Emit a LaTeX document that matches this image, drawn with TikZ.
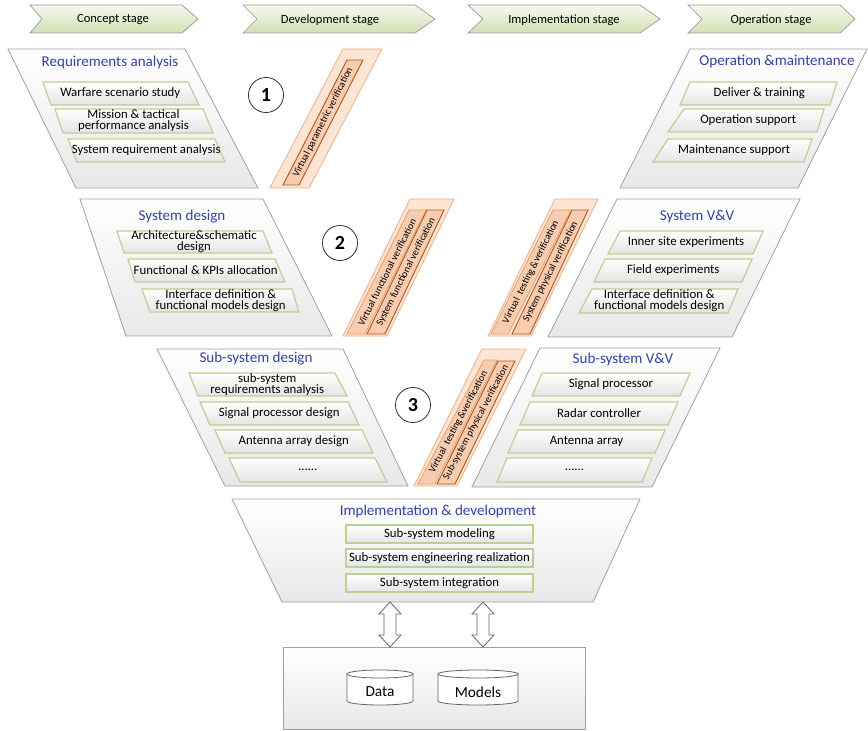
\documentclass[tikz,border=0pt]{standalone}
\usepackage{fontspec}
\setmainfont{Carlito}
\usetikzlibrary{calc}
\definecolor{titleblue}{RGB}{51,63,183}
\definecolor{stageedge}{RGB}{150,150,150}
\definecolor{stagetop}{RGB}{246,249,238}
\definecolor{stagebot}{RGB}{210,223,180}
\definecolor{shapeedge}{RGB}{160,160,160}
\definecolor{shapebot}{RGB}{232,232,232}
\definecolor{subbot}{RGB}{228,228,228}
\definecolor{subedge}{RGB}{188,208,146}
\definecolor{bandfill}{RGB}{252,229,213}
\definecolor{bandedge}{RGB}{243,176,130}
\definecolor{stripfill}{RGB}{248,204,174}
\definecolor{stripedge}{RGB}{233,160,112}
\definecolor{stripdark}{RGB}{180,88,30}

\newcommand{\tightlines}{\lineskiplimit=-5pt\relax}

% quadrilateral with a text node at its centre:
% #1 style, #2 node name, #3 top-left x, #4 top-right x, #5 top y,
% #6 bottom-left x, #7 bottom-right x, #8 bottom y, #9 text
\newcommand{\quadlabel}[9]{%
  \draw[#1] (#3,#5) -- (#4,#5) -- (#7,#8) -- (#6,#8) -- cycle;
  \node[boxtext] (#2) at ({(#3+#4+#6+#7)/4},{(#5+#8)/2}) {#9};}

\begin{document}
\begin{tikzpicture}[x=0.75pt,y=-0.75pt,
  stagebox/.style={draw=stageedge, line width=0.5pt, top color=stagetop, bottom color=stagebot},
  stagetext/.style={font=\fontsize{9.4}{10}\selectfont, inner sep=0pt},
  bigshape/.style={draw=shapeedge, line width=0.6pt, top color=white, bottom color=shapebot},
  subbox/.style={draw=subedge, line width=0.9pt, top color=white, bottom color=subbot},
  band/.style={draw=bandedge, line width=0.6pt, fill=bandfill},
  striplight/.style={draw=stripedge, line width=0.6pt, fill=stripfill},
  stripdk/.style={draw=stripdark, line width=0.7pt, fill=stripfill},
  title/.style={text=titleblue, font=\fontsize{11.3}{12}\selectfont, inner sep=0pt},
  boxtext/.style={align=center, font={\fontsize{9.6}{8.2}\selectfont\tightlines}, inner sep=0pt},
  striptext/.style={font=\fontsize{7.5}{8}\selectfont, inner sep=0pt},
  stepnum/.style={circle, draw=black!80, line width=0.6pt, minimum size=26.3pt, inner sep=0pt,
    font=\fontsize{15}{15}\selectfont\bfseries},
  blockarrow/.style={draw=black!60, line width=0.6pt, fill=white},
  drum/.style={draw=black!60, line width=0.6pt, fill=white},
  ]
\useasboundingbox (0,0) rectangle (868,731);

% ---------- stage chevrons ----------
\draw[stagebox] (30,5) -- (182,5) -- (198,19) -- (182,33) -- (30,33) -- (42,19) -- cycle;
\node[stagetext] (stConcept) at (113,20) {Concept stage};
\draw[stagebox] (243,5) -- (415,5) -- (435,19) -- (415,33) -- (243,33) -- (257,19) -- cycle;
\node[stagetext] (stDevelop) at (330,20) {Development stage};
\draw[stagebox] (468,5) -- (640,5) -- (660,19) -- (640,33) -- (468,33) -- (483,19) -- cycle;
\node[stagetext] (stImplement) at (564,20) {Implementation stage};
\draw[stagebox] (688,5) -- (840,5) -- (855,19) -- (840,33) -- (688,33) -- (702,19) -- cycle;
\node[stagetext] (stOperate) at (771,20) {Operation stage};

% ---------- requirements analysis ----------
\draw[bigshape] (8,49) -- (185,49) -- (258,188) -- (76,188) -- cycle;
\node[title] (reqTitle) at (110,62) {Requirements analysis};
\quadlabel{subbox}{reqA}{43}{188}{82}{51}{199}{105}{Warfare scenario study}
\quadlabel{subbox}{reqB}{55}{203}{109}{63}{213}{133}{Mission \& tactical\\performance analysis}
\quadlabel{subbox}{reqC}{68}{215}{139}{77}{225}{162}{System requirement analysis}

% ---------- operation & maintenance ----------
\draw[bigshape] (690,49) -- (867,49) -- (798,188) -- (620,188) -- cycle;
\node[title] (opTitle) at (777,62) {Operation \&maintenance};
\quadlabel{subbox}{opA}{690}{837}{82}{680}{830}{105}{Deliver \& training}
\quadlabel{subbox}{opB}{684}{824}{109}{668}{817}{132}{Operation support}
\quadlabel{subbox}{opC}{668}{812}{139}{653}{804}{162}{Maintenance support}

% ---------- system design ----------
\draw[bigshape] (80,199) -- (263,199) -- (332,336) -- (126,336) -- cycle;
\node[title] (sdTitle) at (182,217) {System design};
\quadlabel{subbox}{sdA}{117}{263}{231}{124}{272}{253}{Architecture\&schematic\\design}
\quadlabel{subbox}{sdB}{128}{275}{259}{135}{285}{282}{Functional \& KPIs allocation}
\quadlabel{subbox}{sdC}{142}{292}{289}{150}{299}{312}{Interface definition \&\\functional models design}

% ---------- system V&V ----------
\draw[bigshape] (617,199) -- (800,199) -- (732,337) -- (548,337) -- cycle;
\node[title] (svTitle) at (697,217) {System V\&V};
\quadlabel{subbox}{svA}{620}{763}{231}{608}{753}{254}{Inner site experiments}
\quadlabel{subbox}{svB}{605}{752}{259}{594}{742}{282}{Field experiments}
\quadlabel{subbox}{svC}{592}{738}{289}{579}{728}{313}{Interface definition \&\\functional models design}

% ---------- sub-system design ----------
\draw[bigshape] (157,349) -- (343,349) -- (408,486) -- (225,486) -- cycle;
\node[title] (ssdTitle) at (256,359) {Sub-system design};
\quadlabel{subbox}{ssdA}{189}{335}{373}{198}{347}{396}{sub-system\\requirements analysis}
\quadlabel{subbox}{ssdB}{200}{348}{402}{210}{359}{425}{Signal processor design}
\quadlabel{subbox}{ssdC}{215}{362}{430}{225}{373}{453}{Antenna array design}
\quadlabel{subbox}{ssdD}{229}{375}{458}{240}{387}{482}{......}

% ---------- sub-system V&V ----------
\draw[bigshape] (540,348) -- (720,348) -- (652,487) -- (472,487) -- cycle;
\node[title] (ssvTitle) at (623,359) {Sub-system V\&V};
\quadlabel{subbox}{ssvA}{542}{690}{373}{532}{680}{396}{Signal processor}
\quadlabel{subbox}{ssvB}{530}{678}{402}{520}{668}{425}{Radar controller}
\quadlabel{subbox}{ssvC}{518}{665}{430}{508}{655}{453}{Antenna array}
\quadlabel{subbox}{ssvD}{507}{652}{458}{497}{642}{482}{......}

% ---------- implementation & development ----------
\draw[bigshape] (232,499) -- (640,499) -- (593,602) -- (282,602) -- cycle;
\node[title] (implTitle) at (438,511) {Implementation \& development};
\quadlabel{subbox}{implA}{346}{533}{525}{346}{533}{543}{Sub-system modeling}
\quadlabel{subbox}{implB}{346}{533}{549}{346}{533}{567}{Sub-system engineering realization}
\quadlabel{subbox}{implC}{346}{533}{574}{346}{533}{592}{Sub-system integration}

% ---------- verification bands ----------
\draw[band] (343,49) -- (382,49) -- (309,188) -- (270,188) -- cycle;
\draw[stripdk] (347,60) -- (363,60) -- (299,185) -- (283,185) -- cycle;
\node[striptext, rotate=63.3] (vParam) at (323,122.5) {Virtual parametric verification};

\draw[band] (410,199) -- (454,199) -- (387,336) -- (343,336) -- cycle;
\draw[striplight] (409,210) -- (426,210) -- (365,334) -- (347,334) -- cycle;
\draw[stripdk] (427,210) -- (444,210) -- (385,334) -- (367,334) -- cycle;
\node[striptext, rotate=63.4] (vFunc) at (387,272) {Virtual functional verification};
\node[striptext, rotate=63.4] (sFunc) at (406,272) {System functional verification};

\draw[band] (555,199) -- (598,199) -- (531,336) -- (488,336) -- cycle;
\draw[striplight] (553,210) -- (571,210) -- (508,334) -- (491,334) -- cycle;
\draw[stripdk] (572,210) -- (588,210) -- (530,334) -- (512,334) -- cycle;
\node[striptext, rotate=63.4] (vTest) at (531,272) {Virtual\ \ testing \&verification};
\node[striptext, rotate=63.4] (sPhys) at (550.5,272) {System physical verification};

\draw[band] (482,349) -- (526,349) -- (457,486) -- (414,486) -- cycle;
\draw[striplight] (484,360) -- (497,360) -- (435,484) -- (418,484) -- cycle;
\draw[stripdk] (498,361) -- (515,361) -- (455,484) -- (437,484) -- cycle;
\node[striptext, rotate=62] (vTestSub) at (458.5,422) {Virtual\ \ testing \&verification};
\node[striptext, rotate=62] (sPhysSub) at (476,422.5) {Sub-system physical verification};

% ---------- step numbers ----------
\node[stepnum] (n1) at (266,95) {1};
\node[stepnum] (n2) at (340,243) {2};
\node[stepnum] (n3) at (413,405) {3};

% ---------- repository ----------
\draw[bigshape] (283,647) rectangle (585,729);
\coordinate (repoData) at (380,674);
\coordinate (repoModels) at (478,674);
\draw[drum] (347,674) -- (347,701) arc[start angle=180, end angle=0, x radius=33, y radius=4]
  -- (413,674);
\draw[drum] (repoData) ellipse [x radius=33, y radius=4];
\node[font=\fontsize{11.5}{12}\selectfont, inner sep=0pt] (data) at (380,692) {Data};
\draw[drum] (438,674) -- (438,701) arc[start angle=180, end angle=0, x radius=40, y radius=4]
  -- (518,674);
\draw[drum] (repoModels) ellipse [x radius=40, y radius=4];
\node[font=\fontsize{11.5}{12}\selectfont, inner sep=0pt] (models) at (478,692) {Models};

% ---------- two-way exchange arrows ----------
\coordinate (implOutA) at (390,602);
\coordinate (repoInA) at (390,647);
\coordinate (implOutB) at (483,602);
\coordinate (repoInB) at (483,647);
\draw[blockarrow] (implOutA) -- ++(11,12) -- ++(-5,0) -- ++(0,21) -- ++(5,0) -- (repoInA)
  -- ++(-11,-12) -- ++(5,0) -- ++(0,-21) -- ++(-5,0) -- cycle;
\draw[blockarrow] (implOutB) -- ++(11,12) -- ++(-5,0) -- ++(0,21) -- ++(5,0) -- (repoInB)
  -- ++(-11,-12) -- ++(5,0) -- ++(0,-21) -- ++(-5,0) -- cycle;
\end{tikzpicture}
\end{document}
